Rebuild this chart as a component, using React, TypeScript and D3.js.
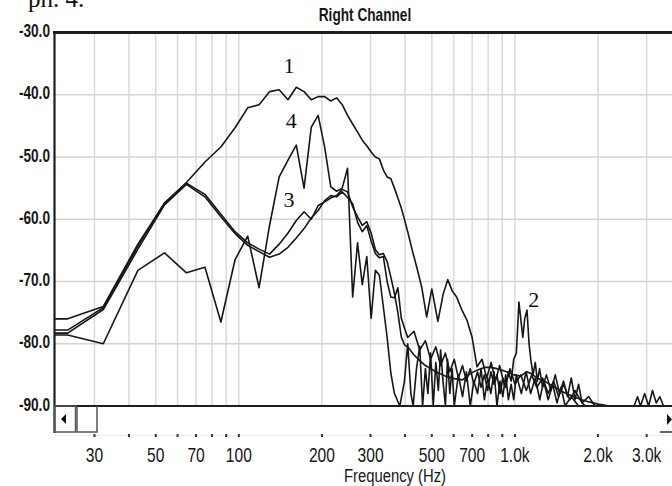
import React from "react"
import * as d3 from "d3"

// spectrum readings, [frequency Hz, level dB]
const curve1: [number, number][] = [
  [21.5, -76], [24, -76], [32.3, -74], [43.1, -64], [53.8, -57.4], [64.6, -54.1], [75.4, -50.8],
  [86.1, -48.4], [96.9, -45.3], [107.7, -42.1], [118.4, -41.6], [129.2, -39.5], [140, -39.2],
  [150.7, -40.8], [161.5, -38.8], [172.3, -39.5], [183, -40.8], [193.8, -40.3], [204.6, -40.3],
  [215.3, -41], [226, -40.5], [236.9, -41.6], [247.6, -43.3], [258.4, -44.7], [269.2, -46],
  [280, -47.3], [290.7, -48.2], [301.5, -49.2], [312.3, -50], [323, -50.3], [333.8, -52.1],
  [344.5, -53.2], [355.3, -53.5], [366.1, -55], [376.8, -56.6], [387.6, -58.2], [398.4, -60.1],
  [409, -62], [425, -65], [445, -68.4], [460, -71], [479, -75.7], [500, -71.2], [526, -76.4],
  [550, -72], [571, -69.7], [593, -71.5], [615, -72.5], [643, -74.6], [670, -76.2], [700, -79],
  [729, -83.7], [760, -82.5], [790, -85.5], [820, -83], [850, -86], [880, -83.5], [920, -87],
  [960, -84], [1000, -86.5], [1050, -85], [1100, -87.5], [1150, -85], [1200, -87], [1260, -85.5],
  [1320, -88], [1380, -86], [1440, -88.5], [1500, -86.5], [1580, -89], [1650, -87.5], [1750, -89.5],
  [1850, -88.5], [1950, -90], [3706, -90],
]

const curve2: [number, number][] = [
  [21.5, -78.3], [24, -78.3], [32.3, -74.5], [43.1, -64.8], [53.8, -57.7], [64.6, -54.4],
  [75.4, -56.4], [86.1, -59.6], [96.9, -62.3], [107.7, -64.2], [118.4, -65.2], [129.2, -66.1],
  [140, -65.6], [150.7, -64.5], [161.5, -63], [172.3, -61.5], [183, -59.8], [193.8, -58.6],
  [204.6, -57], [215.3, -56.2], [226, -56.4], [236.9, -55.6], [247.6, -56.5], [258.4, -57.5],
  [269.2, -60.5], [280, -62], [290.7, -61], [301.5, -63.5], [312.3, -65.5], [323, -66.2],
  [333.8, -66], [344.5, -70], [355.3, -72.5], [366.1, -72.6], [376.8, -71], [387.6, -75.9],
  [398.4, -77.5], [409, -79], [431, -78], [452, -81], [474, -79.5], [495, -82.5], [517, -80.5],
  [538, -83.5], [560, -81.5], [581, -84.5], [603, -82.5], [624, -85.5], [646, -83.5], [667, -86],
  [689, -84], [710, -86.5], [732, -84.5], [754, -87], [775, -85], [797, -87.5], [818, -84.5],
  [840, -86.5], [861, -85], [883, -88], [904, -85.5], [926, -87], [947, -84.5], [969, -86],
  [990, -82.5], [1012, -81.5], [1034, -73.3], [1050, -76], [1068, -79], [1085, -76], [1106, -74.6],
  [1125, -80], [1142, -82.6], [1163, -85], [1185, -83], [1206, -86], [1228, -84], [1260, -87],
  [1300, -85], [1350, -87.5], [1400, -85], [1450, -88], [1500, -86], [1550, -88.5], [1600, -85.5],
  [1650, -89], [1700, -86.5], [1750, -89.5], [1800, -90], [2700, -90], [2780, -88.5], [2850, -90],
  [2950, -88], [3050, -90], [3150, -87.5], [3250, -89.5], [3350, -88.5], [3450, -90], [3706, -90],
]

const curve3: [number, number][] = [
  [21.5, -77.8], [24, -77.8], [32.3, -74.2], [43.1, -64.3], [53.8, -57.4], [64.6, -54.2],
  [75.4, -56], [86.1, -59.2], [96.9, -62], [107.7, -63.8], [118.4, -64.8], [129.2, -65.6],
  [140, -64], [150.7, -62.2], [161.5, -60.2], [172.3, -58.8], [183, -60], [193.8, -57.8],
  [204.6, -57.2], [215.3, -56.6], [226, -56.2], [236.9, -55.2], [247.6, -55.6], [258.4, -58],
  [269.2, -59.6], [280, -61], [290.7, -60.4], [301.5, -62.2], [312.3, -64.9], [323, -65.7],
  [333.8, -65.5], [344.5, -66.8], [355.3, -69.3], [366.1, -71.9], [376.8, -75], [387.6, -78.9],
  [398.4, -80.2], [409, -80.5], [431, -81.8], [452, -82.7], [474, -83.5], [495, -84], [517, -84.5],
  [560, -85.2], [603, -85.6], [646, -85.8], [689, -84.8], [732, -84.2], [775, -83.8], [818, -83.8],
  [861, -84], [904, -84.3], [947, -84.6], [990, -85], [1050, -85.2], [1100, -84.5], [1150, -84.8],
  [1200, -85.5], [1300, -86.2], [1400, -87], [1500, -87.8], [1650, -88.6], [1800, -89.2],
  [2000, -89.7], [2200, -90], [3706, -90],
]

const curve4: [number, number][] = [
  [21.5, -78.6], [24, -78.6], [32.3, -80], [43.1, -68.2], [53.8, -65.4], [64.6, -68.6],
  [75.4, -67.7], [86.1, -76.5], [96.9, -66.5], [107.7, -62.7], [118.4, -71], [129.2, -61],
  [140, -53.2], [150.7, -50.5], [161.5, -48.1], [172.3, -55], [183, -45.2], [193.8, -43.3],
  [204.6, -48.4], [215.3, -54.8], [226, -55.5], [236.9, -55], [247.6, -51.8], [258.4, -72.5],
  [269.2, -63.8], [280, -70.5], [290.7, -66], [301.5, -75.9], [312.3, -68.2], [323, -69],
  [333.8, -74.1], [344.5, -79], [355.3, -84.7], [366.1, -88], [383, -90], [398, -86], [409, -80],
  [420, -88], [428, -90], [440, -84], [452, -80.4], [463, -90], [474, -84], [484, -88], [495, -81.5],
  [506, -90], [517, -83], [528, -87.5], [538, -81], [549, -86], [560, -90], [570, -82.5], [581, -88],
  [592, -84], [603, -90], [624, -85], [646, -88.5], [667, -84.5], [689, -90], [710, -86], [732, -88],
  [754, -84], [775, -89], [797, -85.5], [818, -88], [840, -84.5], [861, -90], [883, -86], [904, -88.5],
  [926, -85], [947, -89], [969, -86.5], [990, -89], [1012, -85], [1055, -88], [1098, -84.5],
  [1140, -88], [1185, -85.5], [1230, -89], [1270, -86], [1320, -89], [1370, -86.5], [1420, -89.5],
  [1470, -87], [1520, -90], [1600, -88.5], [1700, -90], [3706, -90],
]

const curves = [curve1, curve2, curve3, curve4]

const gridHz = [30, 40, 50, 60, 70, 80, 90, 100, 200, 300, 400, 500, 600, 700, 800, 900, 1000, 2000, 3000]
const labelHz = [30, 50, 70, 100, 200, 300, 500, 700, 1000, 2000, 3000]
const labelText = ["30", "50", "70", "100", "200", "300", "500", "700", "1.0k", "2.0k", "3.0k"]
const dbTicks = [-30, -40, -50, -60, -70, -80, -90]

const curveLabels = [
  { text: "1", hz: 152, db: -35.7 },
  { text: "4", hz: 155, db: -44.6 },
  { text: "3", hz: 152, db: -57.3 },
  { text: "2", hz: 1170, db: -73.3 },
]

const W = 672
const H = 486
const left = 54.5
const top = 32.5
const bottom = 406
const sans = "'Liberation Sans', Arial, sans-serif"
const serif = "'Liberation Serif', 'Times New Roman', serif"

// condensed label, like the narrow font of the screenshot
function Narrow(props: { x: number; y: number; size: number; anchor: string; bold?: boolean; mid?: boolean; text: string }) {
  return (
    <text transform={`translate(${props.x},${props.y}) scale(0.78,1)`} textAnchor={props.anchor}
      dominantBaseline={props.mid ? "middle" : "auto"} fontFamily={sans} fontSize={props.size}
      fontWeight={props.bold ? "bold" : "normal"} fill="#161616">{props.text}</text>
  )
}

export default function App() {
  const x = d3.scaleLog().domain([21.5, 3706]).range([left, W])
  const y = d3.scaleLinear().domain([-30, -90]).range([top, bottom])
  const line = d3.line<[number, number]>()
    .x(d => x(d[0]))
    .y(d => y(Math.max(d[1], -90)))

  return (
    <svg width={W} height={H} style={{ position: "absolute", left: 0, top: 0, background: "#fff" }}>
      <defs>
        <clipPath id="plot">
          <rect x={left} y={top} width={W - left} height={bottom - top + 1} />
        </clipPath>
      </defs>

      <text x={28} y={7} fontFamily={serif} fontSize={25} fill="#111">ph. 4.</text>
      <Narrow x={365} y={21} size={17.5} anchor="middle" bold text="Right Channel" />

      {gridHz.map(f => (
        <line key={"gx" + f} x1={x(f)} x2={x(f)} y1={top} y2={bottom} stroke="#dadada" strokeWidth={1.5} />
      ))}
      {dbTicks.slice(1, -1).map(v => (
        <line key={"gy" + v} x1={left} x2={W} y1={y(v)} y2={y(v)} stroke="#d4d4d4" strokeWidth={1.5} />
      ))}

      <g clipPath="url(#plot)">
        {curves.map((c, i) => (
          <path key={i} d={line(c) || ""} fill="none" stroke="#161616" strokeWidth={1.6} strokeLinejoin="round" />
        ))}
      </g>

      {curveLabels.map(l => (
        <text key={l.text} x={x(l.hz)} y={y(l.db)} textAnchor="middle" dominantBaseline="middle"
          fontFamily={serif} fontSize={22} fill="#111">{l.text}</text>
      ))}

      <line x1={left - 1.5} x2={W} y1={top} y2={top} stroke="#1e1e1e" strokeWidth={3} />
      <line x1={left} x2={left} y1={top - 1} y2={433} stroke="#1e1e1e" strokeWidth={2.2} />
      <line x1={left} x2={W} y1={bottom} y2={bottom} stroke="#1e1e1e" strokeWidth={2} />

      {dbTicks.map(v => (
        <Narrow key={"yl" + v} x={50} y={y(v)} size={17.5} anchor="end" bold mid text={v.toFixed(1)} />
      ))}

      {/* scroll bar */}
      <rect x={left} y={bottom} width={21} height={26} fill="none" stroke="#555" strokeWidth={1.5} />
      <path d="M61,419 L66,414 L66,424 Z" fill="#111" />
      <path d="M77,406 L77,432 L97,432 L97,406" fill="none" stroke="#555" strokeWidth={1.5} />
      <path d="M667,414 L672,419.5 L667,425 Z" fill="#111" />
      <line x1={660} x2={W} y1={432} y2={432} stroke="#333" strokeWidth={1.5} />
      <line x1={left} x2={W} y1={435.5} y2={435.5} stroke="#eee" strokeWidth={1} />

      {gridHz.map(f => (
        <rect key={"td" + f} x={x(f) - 1} y={434} width={2} height={3} fill="#333" />
      ))}
      {labelHz.map((f, i) => (
        <Narrow key={"xl" + f} x={x(f)} y={462} size={20} anchor="middle" text={labelText[i]} />
      ))}
      <Narrow x={395} y={482} size={19} anchor="middle" text="Frequency (Hz)" />
    </svg>
  )
}
